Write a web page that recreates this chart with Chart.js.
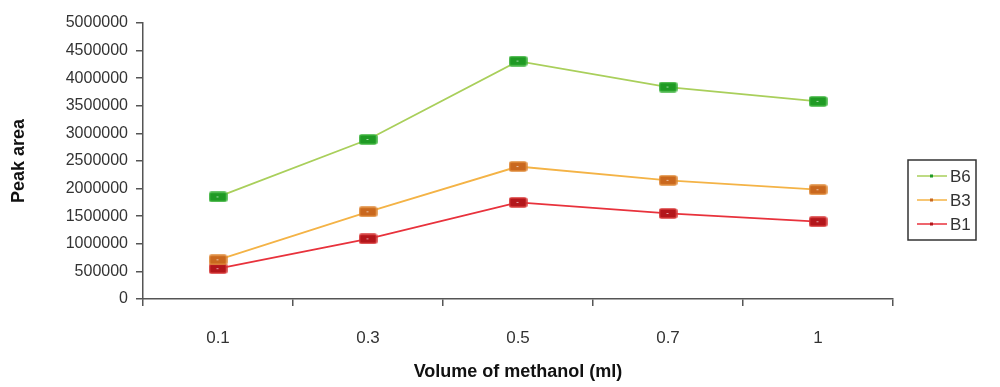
<!DOCTYPE html>
<html>
<head>
<meta charset="utf-8">
<script src="https://cdn.jsdelivr.net/npm/chart.js@4"></script>
<style>
  html, body { margin: 0; padding: 0; background: #fff; }
  #wrap { width: 1000px; height: 387px; }
</style>
</head>
<body>
<div id="wrap"><canvas id="peakChart" width="1000" height="387"></canvas></div>
<script>
const volumes = ['0.1', '0.3', '0.5', '0.7', '1'];
const b6 = [1850000, 2890000, 4310000, 3840000, 3580000];
const b3 = [710000, 1580000, 2400000, 2150000, 1980000];
const b1 = [550000, 1090000, 1750000, 1550000, 1400000];
const yTicks = [0, 500000, 1000000, 1500000, 2000000, 2500000, 3000000, 3500000, 4000000, 4500000, 5000000];

// little rounded rectangle marker, like the old spreadsheet export
function makeMarker(fill, edge) {
  const c = document.createElement('canvas');
  c.width = 19; c.height = 11;
  const g = c.getContext('2d');
  g.fillStyle = fill;
  g.strokeStyle = edge;
  g.lineWidth = 1.5;
  g.beginPath();
  g.roundRect(1, 1, 17, 9, 2);
  g.fill();
  g.stroke();
  g.fillStyle = 'rgba(255,255,255,0.6)';
  g.fillRect(8, 5, 2, 1);
  return c;
}

const series = [
  { label: 'B6', data: b6, line: '#a9cf5b', fill: '#1f9a24', edge: '#3cb33c' },
  { label: 'B3', data: b3, line: '#f4b346', fill: '#c9681f', edge: '#e08a3a' },
  { label: 'B1', data: b1, line: '#e8323c', fill: '#b3161b', edge: '#d83a3a' }
];

const legendBox = {
  id: 'legendBox',
  afterDraw(chart) {
    const ctx = chart.ctx;
    const x = 908, y = 160, w = 68, h = 80;
    ctx.save();
    ctx.strokeStyle = '#333';
    ctx.lineWidth = 1.5;
    ctx.strokeRect(x, y, w, h);
    series.forEach((s, i) => {
      const cy = y + 16 + i * 24;
      ctx.strokeStyle = s.line;
      ctx.lineWidth = 1.5;
      ctx.beginPath();
      ctx.moveTo(x + 9, cy);
      ctx.lineTo(x + 39, cy);
      ctx.stroke();
      ctx.fillStyle = s.fill;
      ctx.fillRect(x + 22, cy - 1.5, 3, 3);
      ctx.fillStyle = '#333';
      ctx.font = '17px "Liberation Sans", Arial, sans-serif';
      ctx.textBaseline = 'middle';
      ctx.fillText(s.label, x + 42, cy + 1);
    });
    ctx.restore();
  }
};

const data = {
  labels: volumes,
  datasets: series.map(s => ({
    label: s.label,
    data: s.data,
    borderColor: s.line,
    borderWidth: 1.8,
    pointStyle: makeMarker(s.fill, s.edge),
    pointRadius: 6,
    tension: 0
  }))
};

const config = {
  type: 'line',
  data: data,
  options: {
    responsive: false,
    animation: false,
    layout: { padding: { top: 23, right: 107, left: 4, bottom: 0 } },
    plugins: {
      legend: { display: false },
      tooltip: { enabled: false }
    },
    scales: {
      x: {
        offset: true,
        grid: {
          offset: true,
          drawOnChartArea: false,
          drawTicks: true,
          tickLength: 7,
          color: '#555',
          lineWidth: 1.5
        },
        border: { color: '#555', width: 1.5 },
        ticks: {
          color: '#333',
          padding: 22,
          font: { family: '"Liberation Sans", Arial, sans-serif', size: 17 }
        },
        title: {
          display: true,
          text: 'Volume of methanol (ml)',
          color: '#111',
          padding: { top: 10 },
          font: { family: '"Liberation Sans", Arial, sans-serif', size: 18, weight: 'bold' }
        },
        afterFit(scale) { scale.height = 88; }
      },
      y: {
        min: 0,
        max: 5000000,
        afterBuildTicks(scale) { scale.ticks = yTicks.map(v => ({ value: v })); },
        grid: {
          drawOnChartArea: false,
          drawTicks: true,
          tickLength: 7,
          color: '#555',
          lineWidth: 1.5
        },
        border: { color: '#555', width: 1.5 },
        ticks: {
          color: '#333',
          padding: 8,
          font: { family: '"Liberation Sans", Arial, sans-serif', size: 16 },
          callback: v => String(v)
        },
        title: {
          display: true,
          text: 'Peak area',
          color: '#111',
          padding: { bottom: 4 },
          font: { family: '"Liberation Sans", Arial, sans-serif', size: 18, weight: 'bold' }
        },
        afterFit(scale) { scale.width = 139; }
      }
    }
  },
  plugins: [legendBox]
};

new Chart(document.getElementById('peakChart').getContext('2d'), config);
</script>
</body>
</html>
